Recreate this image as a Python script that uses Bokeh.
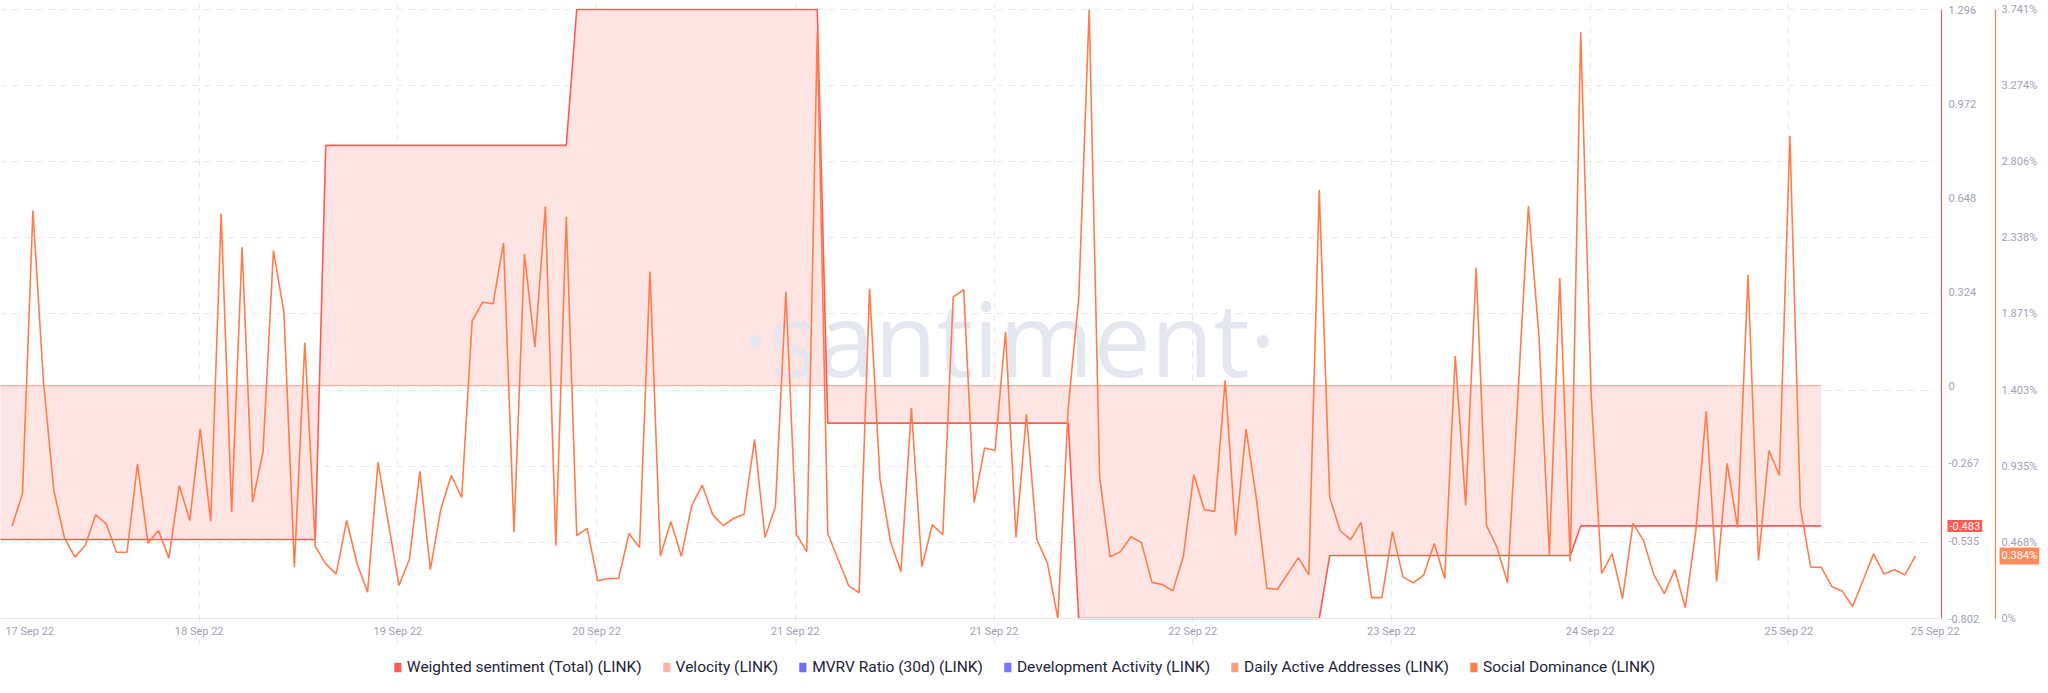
from bokeh.plotting import figure
from bokeh.layouts import column
from bokeh.models import (Range1d, LinearAxis, FixedTicker, Legend, LegendItem,
                          Label, Grid, ColumnDataSource)
from bokeh.embed import file_html
from bokeh.resources import INLINE
from bokeh.core.properties import value

# ---------------- data ----------------
x_tick_labels = ["17 Sep 22", "18 Sep 22", "19 Sep 22", "20 Sep 22", "21 Sep 22",
                 "21 Sep 22", "22 Sep 22", "23 Sep 22", "24 Sep 22", "25 Sep 22",
                 "25 Sep 22"]

# Social Dominance (LINK), hourly, in %
social_dominance = [
    0.567, 0.766, 2.506, 1.462, 0.786, 0.500, 0.377, 0.448, 0.637, 0.582,
    0.407, 0.407, 0.950, 0.463, 0.541, 0.371, 0.817, 0.602, 1.165, 0.598,
    2.486, 0.653, 2.281, 0.715, 1.022, 2.261, 1.882, 0.315, 1.693, 0.444,
    0.336, 0.274, 0.602, 0.336, 0.162, 0.960, 0.582, 0.203, 0.362, 0.904,
    0.300, 0.670, 0.879, 0.744, 1.828, 1.943, 1.933, 2.308, 0.530, 2.239,
    1.667, 2.530, 0.448, 2.468, 0.510, 0.554, 0.232, 0.246, 0.246, 0.522,
    0.436, 2.131, 0.382, 0.596, 0.382, 0.695, 0.818, 0.638, 0.571, 0.616,
    0.640, 1.101, 0.498, 0.687, 2.007, 0.515, 0.411, 3.600, 0.522, 0.362,
    0.202, 0.158, 2.025, 0.855, 0.473, 0.288, 1.293, 0.318, 0.576, 0.515,
    1.975, 2.020, 0.712, 1.047, 1.032, 1.761, 0.498, 1.254, 0.485, 0.342,
    0.000, 1.298, 1.963, 3.741, 0.867, 0.379, 0.411, 0.502, 0.466, 0.222,
    0.209, 0.170, 0.379, 0.884, 0.670, 0.658, 1.463, 0.510, 1.163, 0.732,
    0.185, 0.180, 0.276, 0.374, 0.268, 2.633, 0.744, 0.539, 0.485, 0.591,
    0.128, 0.128, 0.534, 0.256, 0.219, 0.268, 0.461, 0.244, 1.613, 0.695,
    2.155, 0.571, 0.436, 0.219, 1.372, 2.534, 1.741, 0.392, 2.091, 0.350,
    3.601, 1.372, 0.276, 0.399, 0.123, 0.584, 0.480, 0.268, 0.153, 0.300,
    0.067, 0.534, 1.273, 0.227, 0.953, 0.559, 2.111, 0.357, 1.032, 0.879,
    2.966, 0.684, 0.315, 0.315, 0.197, 0.168, 0.074, 0.233, 0.397, 0.274,
    0.299, 0.268, 0.384,
]

# Weighted sentiment (Total) (LINK), one value per day
sentiment_daily = [-0.530, 0.828, 1.296, -0.129, -0.802, -0.585, -0.483]
sentiment_day_start_hour = [None, 30, 54, 78, 102, 126, 150]   # first day starts before view
sentiment_last_hour = 173

sent_ticks = [-0.802, -0.535, -0.267, 0, 0.324, 0.648, 0.972, 1.296]
sent_tick_labels = ["-0.802", "-0.535", "-0.267", "0", "0.324", "0.648", "0.972", "1.296"]
soc_ticks = [0, 0.468, 0.935, 1.403, 1.871, 2.338, 2.806, 3.274, 3.741]
soc_tick_labels = ["0%", "0.468%", "0.935%", "1.403%", "1.871%", "2.338%", "2.806%",
                   "3.274%", "3.741%"]

legend_names = ["Weighted sentiment (Total) (LINK)", "Velocity (LINK)",
                "MVRV Ratio (30d) (LINK)", "Development Activity (LINK)",
                "Daily Active Addresses (LINK)", "Social Dominance (LINK)"]
legend_colors = ["#ff5b5b", "#ffb4a6", "#6f6cff", "#7a74ff", "#ff9f7e", "#ff7d4d"]

# ---------------- layout constants ----------------
W = 2048
H_MAIN = 645
PLOT_TOP_PX, PLOT_BOTTOM_PX = 9, 618      # pixel rows of the value extremes
PX_PER_HOUR = 10.458
X0 = -1.1
X_END = X0 + W / PX_PER_HOUR          # frame spans the full width
X1 = X0 + 1940 / PX_PER_HOUR          # end of the plotting area
X_RED_AXIS = X0 + 1941 / PX_PER_HOUR
X_ORANGE_AXIS = X0 + 1995 / PX_PER_HOUR
TICK_STEP = 19
RED = "#ff5b52"
ORANGE = "#ff7d4d"
LABEL_GREY = "#9fa2b6"
GRID = "#e5e6ee"


def padded_range(lo, hi):
    per_px = (hi - lo) / (PLOT_BOTTOM_PX - PLOT_TOP_PX)
    return Range1d(lo - (H_MAIN - PLOT_BOTTOM_PX) * per_px, hi + PLOT_TOP_PX * per_px)


SOC_MIN, SOC_MAX = soc_ticks[0], soc_ticks[-1]
SENT_MIN, SENT_MAX = sent_ticks[0], sent_ticks[-1]

hours = list(range(len(social_dominance)))

# sentiment step polyline
sx, sy = [], []
for k, v in enumerate(sentiment_daily):
    start = sentiment_day_start_hour[k] if sentiment_day_start_hour[k] is not None else X0 - 5
    end = (sentiment_day_start_hour[k + 1] - 1) if k + 1 < len(sentiment_daily) else sentiment_last_hour
    sx += [start, end]
    sy += [v, v]

p = figure(width=W, height=H_MAIN, x_range=Range1d(X0, X_END),
           y_range=padded_range(SOC_MIN, SOC_MAX),
           output_backend="svg", toolbar_location=None, y_axis_location=None,
           x_axis_location=None,
           min_border_left=0, min_border_right=0, min_border_top=0, min_border_bottom=0)
p.extra_y_ranges = {"sent": padded_range(SENT_MIN, SENT_MAX)}
p.outline_line_color = None
p.background_fill_color = "white"
p.border_fill_color = "white"
p.grid.visible = False

# grids
grid_x = [round(X0 + TICK_STEP * k, 2) for k in range(1, 10)]
p.add_layout(Grid(dimension=0, ticker=FixedTicker(ticks=grid_x), grid_line_color=GRID,
                  grid_line_dash="6 6", grid_line_width=1, bounds=(SOC_MIN, SOC_MAX)))
p.add_layout(Grid(dimension=1, ticker=FixedTicker(ticks=soc_ticks[1:]), grid_line_color=GRID,
                  grid_line_dash="6 6", grid_line_width=1))

# white cover for the axis area (grid lines stop at the plotting area)
p.quad(left=[X1 - 0.6], right=[X_END], bottom=[SOC_MIN - 1], top=[SOC_MAX + 1],
       fill_color="white", line_color=None)

# x axis, drawn at the 0 level of the main range
xtick_pos = [round(X0 + 2.8, 2)] + grid_x + [round(X1 - 0.5, 2)]
xa = LinearAxis(ticker=FixedTicker(ticks=xtick_pos), fixed_location=SOC_MIN,
                bounds=(X0, X1),
                axis_line_color="#e3e4ec", major_tick_line_color=None,
                minor_tick_line_color=None, major_tick_out=0, major_label_standoff=6,
                major_label_text_color=LABEL_GREY, major_label_text_font="Roboto",
                major_label_text_font_size="11px")
xa.major_label_overrides = {pos: lab for pos, lab in zip(xtick_pos, x_tick_labels)}
p.add_layout(xa, "below")

# right axes (drawn at fixed x positions right of the plotting area)
ax_sent = LinearAxis(y_range_name="sent", ticker=FixedTicker(ticks=sent_ticks),
                     fixed_location=X_RED_AXIS, bounds=(SENT_MIN, SENT_MAX),
                     axis_line_color=RED, axis_line_width=1.2,
                     major_tick_line_color=None, minor_tick_line_color=None,
                     major_tick_out=0, major_label_standoff=7,
                     major_label_text_color=LABEL_GREY, major_label_text_font="Roboto",
                     major_label_text_font_size="11px")
ax_sent.major_label_overrides = {t: l for t, l in zip(sent_ticks, sent_tick_labels)}
ax_soc = LinearAxis(ticker=FixedTicker(ticks=soc_ticks), fixed_location=X_ORANGE_AXIS,
                    bounds=(SOC_MIN, SOC_MAX),
                    axis_line_color=ORANGE, axis_line_width=1.2,
                    major_tick_line_color=None, minor_tick_line_color=None,
                    major_tick_out=0, major_label_standoff=6,
                    major_label_text_color=LABEL_GREY, major_label_text_font="Roboto",
                    major_label_text_font_size="11px")
ax_soc.major_label_overrides = {t: l for t, l in zip(soc_ticks, soc_tick_labels)}
p.add_layout(ax_sent, "right")
p.add_layout(ax_soc, "right")

# sentiment area
p.varea(x=sx, y1=0, y2=sy, y_range_name="sent", fill_color="#ffe4e4", fill_alpha=1)
p.line(x=[sx[0], sx[-1]], y=[0, 0], y_range_name="sent", line_color="#ffaa9d", line_width=1.3)

# watermark
p.text(x=[X0 + 0.52 * (X1 - X0)], y=[0.461 * SOC_MAX], text=["·santiment·"],
       text_font=value("Open Sans"), text_font_size="102px", text_color="#e5e7f0",
       text_align="center", text_baseline="alphabetic")

p.line(x=sx, y=sy, y_range_name="sent", line_color=RED, line_width=1.6)
p.line(x=hours, y=social_dominance, line_color=ORANGE, line_width=1.6)

# last-value tags
p.add_layout(Label(x=X_RED_AXIS, y=sentiment_daily[-1], y_range_name="sent", x_offset=6,
                   text=f"{sentiment_daily[-1]:.3f}", text_font="Roboto",
                   text_font_size="11px", text_color="white", text_align="left",
                   text_baseline="middle", background_fill_color=RED, padding=2,
                   level="overlay"))
p.add_layout(Label(x=X_ORANGE_AXIS, y=social_dominance[-1], x_offset=4,
                   text=f"{social_dominance[-1]:.3f}%", text_font="Roboto",
                   text_font_size="11px", text_color="white", text_align="left",
                   text_baseline="middle", background_fill_color="#ff8a5c", padding=2,
                   level="overlay"))

# legend in its own strip
lg = figure(width=W, height=44, x_range=Range1d(0, 1), y_range=Range1d(0, 1),
            output_backend="svg", toolbar_location=None, x_axis_location=None,
            y_axis_location=None, min_border=0)
lg.outline_line_color = None
lg.grid.visible = False
items = []
nan = float("nan")
for name, col in zip(legend_names, legend_colors):
    src = ColumnDataSource(dict(left=[nan], right=[nan], top=[nan], bottom=[nan]))
    r = lg.quad(left="left", right="right", top="top", bottom="bottom", source=src,
                fill_color=col, line_color=None)
    items.append(LegendItem(label=name, renderers=[r]))
legend = Legend(items=items, orientation="horizontal", location="center",
                glyph_width=9, glyph_height=12, label_standoff=5, spacing=20,
                padding=0, margin=0, border_line_color=None, background_fill_alpha=0,
                label_text_font="Roboto", label_text_font_size="15.5px",
                label_text_color="#22243a", label_height=15)
lg.add_layout(legend, "center")

open("out.html", "w").write(file_html(column(p, lg, spacing=0), INLINE))
